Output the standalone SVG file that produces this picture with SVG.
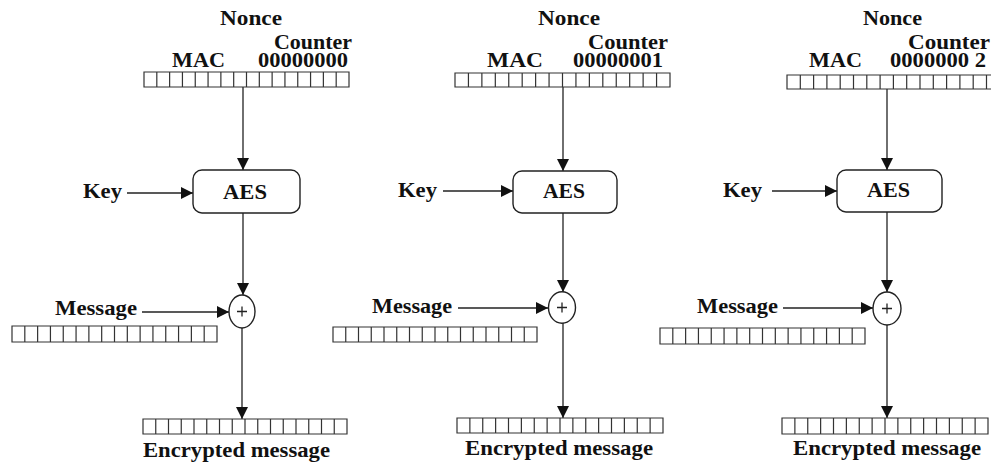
<svg xmlns="http://www.w3.org/2000/svg" xmlns:xlink="http://www.w3.org/1999/xlink" width="991" height="464" viewBox="0 0 991 464">
<style>
text{font-family:"Liberation Serif","Times New Roman",serif;font-weight:bold;font-size:22px;fill:#111;}
.ln{stroke:#222;stroke-width:1.3;fill:none;}
.box{stroke:#222;stroke-width:1.4;fill:#fff;}
.cell{stroke:#333;stroke-width:1.2;fill:#fff;vector-effect:non-scaling-stroke;}
.cl{stroke:#333;stroke-width:1.2;fill:none;vector-effect:non-scaling-stroke;}
</style>
<defs>
<marker id="ah" markerUnits="userSpaceOnUse" markerWidth="13" markerHeight="12" refX="12" refY="6" orient="auto">
<path d="M0,0 L12,6 L0,12 z" fill="#111"/>
</marker>
<g id="arr">
<rect class="cell" x="0" y="0" width="16" height="1"/>
<path class="cl" d="M1,0V1M2,0V1M3,0V1M4,0V1M5,0V1M6,0V1M7,0V1M8,0V1M9,0V1M10,0V1M11,0V1M12,0V1M13,0V1M14,0V1M15,0V1"/>
</g>
</defs>

<g id="connectors">
<line class="ln" x1="243" y1="87" x2="243" y2="170" marker-end="url(#ah)"/>
<line class="ln" x1="243" y1="213" x2="243" y2="295" marker-end="url(#ah)"/>
<line class="ln" x1="242" y1="328" x2="242" y2="419" marker-end="url(#ah)"/>
<line class="ln" x1="127" y1="193" x2="193" y2="193" marker-end="url(#ah)"/>
<line class="ln" x1="142" y1="312" x2="229" y2="312" marker-end="url(#ah)"/>

<line class="ln" x1="563" y1="87" x2="563" y2="171" marker-end="url(#ah)"/>
<line class="ln" x1="563" y1="213" x2="563" y2="292" marker-end="url(#ah)"/>
<line class="ln" x1="563" y1="323" x2="563" y2="418" marker-end="url(#ah)"/>
<line class="ln" x1="443" y1="191" x2="513" y2="191" marker-end="url(#ah)"/>
<line class="ln" x1="458" y1="308" x2="548" y2="308" marker-end="url(#ah)"/>

<line class="ln" x1="887" y1="89" x2="887" y2="170" marker-end="url(#ah)"/>
<line class="ln" x1="887" y1="212" x2="887" y2="292" marker-end="url(#ah)"/>
<line class="ln" x1="887" y1="325" x2="887" y2="418" marker-end="url(#ah)"/>
<line class="ln" x1="772" y1="191" x2="837" y2="191" marker-end="url(#ah)"/>
<line class="ln" x1="783" y1="308" x2="873" y2="308" marker-end="url(#ah)"/>
</g>

<!-- Panel 1 -->
<g id="p1-counter">
<text x="220" y="25" textLength="62" lengthAdjust="spacingAndGlyphs">Nonce</text>
<text x="274" y="49" textLength="78" lengthAdjust="spacingAndGlyphs">Counter</text>
<text x="172" y="67" textLength="53" lengthAdjust="spacingAndGlyphs">MAC</text>
<text x="258" y="67" textLength="90" lengthAdjust="spacingAndGlyphs">00000000</text>
<use xlink:href="#arr" transform="translate(144,72) scale(12.8125,15)"/>
</g>
<g id="p1-key"><text x="83" y="198" textLength="39" lengthAdjust="spacingAndGlyphs">Key</text></g>
<g id="p1-aes">
<rect class="box" x="193" y="170" width="107" height="43" rx="9"/>
<text x="223" y="199" textLength="44" lengthAdjust="spacingAndGlyphs">AES</text>
</g>
<g id="p1-message">
<text x="55" y="315" textLength="82" lengthAdjust="spacingAndGlyphs">Message</text>
<use xlink:href="#arr" transform="translate(12,326) scale(12.8125,16)"/>
</g>
<g id="p1-xor">
<ellipse class="box" cx="242" cy="311.5" rx="13" ry="16.5"/>
<path class="ln" d="M237,311.5H247M242,306.5V316.5"/>
</g>
<g id="p1-encrypted">
<use xlink:href="#arr" transform="translate(143,419) scale(12.75,15)"/>
<text x="143" y="457" textLength="187" lengthAdjust="spacingAndGlyphs">Encrypted message</text>
</g>

<!-- Panel 2 -->
<g id="p2-counter">
<text x="538" y="25" textLength="62" lengthAdjust="spacingAndGlyphs">Nonce</text>
<text x="588" y="49" textLength="80" lengthAdjust="spacingAndGlyphs">Counter</text>
<text x="487" y="67" textLength="56" lengthAdjust="spacingAndGlyphs">MAC</text>
<text x="573" y="67" textLength="90" lengthAdjust="spacingAndGlyphs">00000001</text>
<use xlink:href="#arr" transform="translate(455,73) scale(13.4375,14)"/>
</g>
<g id="p2-key"><text x="398" y="197" textLength="39" lengthAdjust="spacingAndGlyphs">Key</text></g>
<g id="p2-aes">
<rect class="box" x="513" y="171" width="104" height="42" rx="9"/>
<text x="543" y="198" textLength="42" lengthAdjust="spacingAndGlyphs">AES</text>
</g>
<g id="p2-message">
<text x="372" y="313" textLength="80" lengthAdjust="spacingAndGlyphs">Message</text>
<use xlink:href="#arr" transform="translate(333,327) scale(12.75,15)"/>
</g>
<g id="p2-xor">
<ellipse class="box" cx="562" cy="307.5" rx="13.5" ry="15.7"/>
<path class="ln" d="M557,307.5H567M562,302.5V312.5"/>
</g>
<g id="p2-encrypted">
<use xlink:href="#arr" transform="translate(457,418) scale(12.875,15)"/>
<text x="465" y="455" textLength="188" lengthAdjust="spacingAndGlyphs">Encrypted message</text>
</g>

<!-- Panel 3 -->
<g id="p3-counter">
<text x="863" y="25" textLength="59" lengthAdjust="spacingAndGlyphs">Nonce</text>
<text x="908" y="49" textLength="82" lengthAdjust="spacingAndGlyphs">Counter</text>
<text x="809" y="67" textLength="53" lengthAdjust="spacingAndGlyphs">MAC</text>
<text x="890" y="67" textLength="96" lengthAdjust="spacingAndGlyphs">0000000 2</text>
<use xlink:href="#arr" transform="translate(787,75) scale(13.3,14)"/>
</g>
<g id="p3-key"><text x="723" y="197" textLength="39" lengthAdjust="spacingAndGlyphs">Key</text></g>
<g id="p3-aes">
<rect class="box" x="837" y="170" width="105" height="42" rx="9"/>
<text x="867" y="197" textLength="43" lengthAdjust="spacingAndGlyphs">AES</text>
</g>
<g id="p3-message">
<text x="697" y="313" textLength="81" lengthAdjust="spacingAndGlyphs">Message</text>
<use xlink:href="#arr" transform="translate(660,328) scale(12.8125,16)"/>
</g>
<g id="p3-xor">
<ellipse class="box" cx="887" cy="308.5" rx="14" ry="16.5"/>
<path class="ln" d="M882,308.5H892M887,303.5V313.5"/>
</g>
<g id="p3-encrypted">
<use xlink:href="#arr" transform="translate(782,418) scale(12.875,16)"/>
<text x="793" y="455" textLength="188" lengthAdjust="spacingAndGlyphs">Encrypted message</text>
</g>
</svg>
